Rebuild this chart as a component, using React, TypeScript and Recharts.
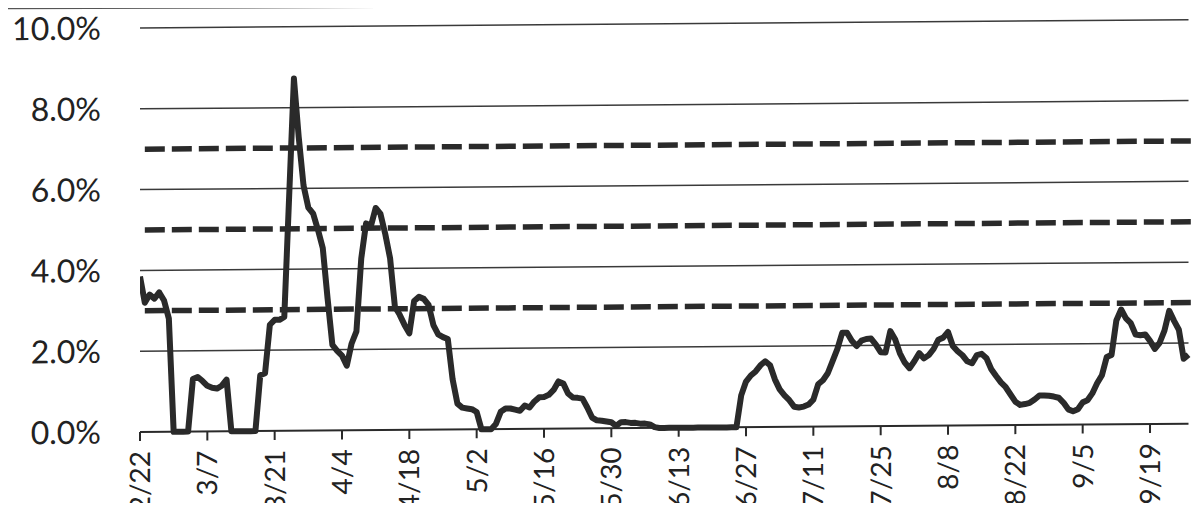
import React from 'react';
import { LineChart, Line, XAxis, YAxis, ReferenceLine } from 'recharts';

// one tick label every 14 days, starting 2/22
const tickLabels = ['2/22', '3/7', '3/21', '4/4', '4/18', '5/2', '5/16', '5/30', '6/13', '6/27', '7/11', '7/25', '8/8', '8/22', '9/5', '9/19'];

const rate = [
  3.85, 3.2, 3.4, 3.3, 3.45, 3.25, 2.8, 0, 0, 0, 0, 1.3, 1.35, 1.25,
  1.13, 1.08, 1.06, 1.13, 1.28, 0, 0, 0, 0, 0, 0, 1.38, 1.43, 2.63,
  2.75, 2.75, 2.82, 5.77, 8.72, 7.27, 6.07, 5.52, 5.37, 4.97, 4.52, 3.27, 2.12, 1.97,
  1.85, 1.6, 2.15, 2.45, 4.25, 5.12, 5.05, 5.5, 5.35, 4.85, 4.25, 3.05, 2.85, 2.6,
  2.39, 3.19, 3.29, 3.24, 3.09, 2.59, 2.36, 2.29, 2.24, 1.24, 0.64, 0.54, 0.52, 0.5,
  0.43, 0, 0, 0, 0.13, 0.43, 0.51, 0.51, 0.48, 0.45, 0.58, 0.53, 0.68, 0.78,
  0.79, 0.84, 0.96, 1.17, 1.12, 0.87, 0.77, 0.76, 0.74, 0.52, 0.27, 0.2, 0.19, 0.17,
  0.15, 0.06, 0.15, 0.15, 0.13, 0.13, 0.11, 0.11, 0.09, 0.02, 0, 0, 0, 0,
  0, 0, 0, 0, 0, 0, 0, 0, 0, 0, 0, 0, 0, 0.79,
  1.13, 1.28, 1.38, 1.53, 1.63, 1.53, 1.18, 0.93, 0.78, 0.66, 0.5, 0.48, 0.5, 0.55,
  0.67, 1.05, 1.15, 1.32, 1.62, 1.92, 2.32, 2.32, 2.12, 1.99, 2.12, 2.16, 2.17, 2.02,
  1.83, 1.82, 2.35, 2.15, 1.8, 1.57, 1.43, 1.6, 1.8, 1.67, 1.75, 1.9, 2.13, 2.18,
  2.32, 1.97, 1.84, 1.74, 1.59, 1.54, 1.74, 1.77, 1.66, 1.39, 1.22, 1.06, 0.94, 0.76,
  0.58, 0.5, 0.52, 0.55, 0.63, 0.73, 0.73, 0.72, 0.7, 0.67, 0.55, 0.38, 0.33, 0.38,
  0.55, 0.6, 0.77, 1.02, 1.22, 1.67, 1.72, 2.57, 2.84, 2.62, 2.5, 2.22, 2.2, 2.22,
  2.06, 1.86, 2.01, 2.31, 2.8, 2.55, 2.33, 1.61, 1.71,
];

const yTicks = [0, 2, 4, 6, 8, 10];
const gridLevels = [2, 4, 6, 8, 10];
const thresholdLevels = [3, 5, 7];

const tickDays = tickLabels.map((_, i) => i * 14);
const lastDay = rate.length - 1;
const data = rate.map((v, day) => ({ day, v }));

const FONT = 'Lato, "Open Sans", sans-serif';
const INK = '#2a2a2a';

const DateTick = (props: any) => {
  const { x, y, payload } = props;
  const label = tickLabels[Math.round(payload.value / 14)] ?? '';
  return (
    <text
      x={x}
      y={y}
      dy="0.36em"
      textAnchor="end"
      transform={`rotate(-90, ${x}, ${y})`}
      fontSize={28}
      fontFamily={FONT}
      fill="#222"
    >
      {label}
    </text>
  );
};

export default function App() {
  return (
    <div style={{ position: 'relative', width: 1201, height: 511, margin: -8, overflow: 'hidden', background: '#fff' }}>
      <div
        style={{
          position: 'absolute',
          left: 0,
          top: 0,
          // the scan is slightly skewed: right side sits ~8px higher
          transform: 'skewY(-0.45deg)',
          transformOrigin: '140px 432px',
        }}
      >
        <LineChart width={1201} height={511} data={data} margin={{ top: 28, right: 0, left: 0, bottom: 0 }}>
          <XAxis
            type="number"
            dataKey="day"
            domain={[0, 220.6]}
            allowDataOverflow
            ticks={tickDays}
            interval={0}
            axisLine={false}
            tickLine={{ stroke: INK, strokeWidth: 2 }}
            tickSize={9}
            tickMargin={10}
            height={79}
            tick={<DateTick />}
          />
          <YAxis
            type="number"
            domain={[0, 10]}
            ticks={yTicks}
            interval={0}
            axisLine={false}
            tickLine={false}
            tickSize={0}
            tickMargin={39}
            width={140}
            tickFormatter={(v: number) => `${v.toFixed(1)}%`}
            tick={{ fontSize: 32, fontFamily: FONT, fill: '#222' }}
          />
          {gridLevels.map((lv) => (
            <ReferenceLine
              key={`g${lv}`}
              segment={[{ x: 0, y: lv }, { x: lastDay, y: lv }]}
              stroke="#3a3a3a"
              strokeWidth={1.5}
            />
          ))}
          <ReferenceLine segment={[{ x: 0, y: 0 }, { x: lastDay, y: 0 }]} stroke={INK} strokeWidth={2} />
          {thresholdLevels.map((lv) => (
            <ReferenceLine
              key={`t${lv}`}
              segment={[{ x: 1, y: lv }, { x: 220.6, y: lv }]}
              stroke={INK}
              strokeWidth={5.5}
              strokeDasharray="20 7"
            />
          ))}
          <Line
            type="linear"
            dataKey="v"
            stroke={INK}
            strokeWidth={6}
            strokeLinejoin="round"
            dot={false}
            isAnimationActive={false}
          />
        </LineChart>
      </div>
      <svg
        width={1201}
        height={511}
        style={{ position: 'absolute', left: 0, top: 0, zIndex: 10, pointerEvents: 'none' }}
      >
        <path d="M1201 4 L6 8 L6 511" fill="none" stroke="#555" strokeWidth={2.5} />
        <path d="M6 507 L1201 505" fill="none" stroke="#ccc" strokeWidth={1} />
      </svg>
    </div>
  );
}
